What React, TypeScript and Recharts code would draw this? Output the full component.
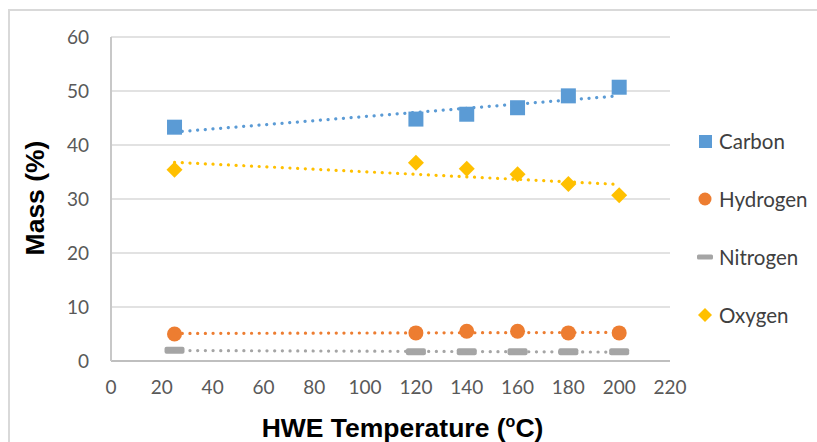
import React from 'react';
import { ComposedChart, Scatter, XAxis, YAxis, CartesianGrid, Legend } from 'recharts';

const temps = [25, 120, 140, 160, 180, 200];
const carbon = [43.3, 44.8, 45.7, 46.9, 49.1, 50.7];
const hydrogen = [5.0, 5.2, 5.5, 5.5, 5.2, 5.2];
const nitrogen = [2.0, 1.7, 1.7, 1.7, 1.7, 1.7];
const oxygen = [35.4, 36.7, 35.6, 34.6, 32.8, 30.7];

const trendX = [25, 200];
const carbonTrend = [42.4, 49.1];
const hydrogenTrend = [5.1, 5.3];
const nitrogenTrend = [1.95, 1.65];
const oxygenTrend = [36.8, 32.7];

const xTicks = [0, 20, 40, 60, 80, 100, 120, 140, 160, 180, 200, 220];
const yTicks = [0, 10, 20, 30, 40, 50, 60];

const seriesNames = ['Carbon', 'Hydrogen', 'Nitrogen', 'Oxygen'];
const colors = ['#5B9BD5', '#ED7D31', '#A5A5A5', '#FFC000'];

const toPts = (xs: number[], ys: number[]) => xs.map((x, i) => ({ x, y: ys[i] }));

const Square = (p: any) => <rect x={p.cx - 7.5} y={p.cy - 7.5} width={15} height={15} fill={colors[0]} />;
const Dot = (p: any) => <circle cx={p.cx} cy={p.cy} r={7.5} fill={colors[1]} />;
const Dash = (p: any) => <rect x={p.cx - 10} y={p.cy - 3.5} width={20} height={7} rx={2} fill={colors[2]} />;
const Diamond = (p: any) => (
  <path d={`M${p.cx},${p.cy - 8}L${p.cx + 8},${p.cy}L${p.cx},${p.cy + 8}L${p.cx - 8},${p.cy}Z`} fill={colors[3]} />
);
const NoShape = () => <g />;

const legendIcon = (i: number) => {
  if (i === 0) return <rect x={2} y={3} width={13} height={13} fill={colors[0]} />;
  if (i === 1) return <circle cx={8} cy={9} r={6.5} fill={colors[1]} />;
  if (i === 2) return <rect x={0} y={6.5} width={16} height={5} rx={1.5} fill={colors[2]} />;
  return <path d="M8,2L15,9L8,16L1,9Z" fill={colors[3]} />;
};

const LegendContent = () => (
  <div style={{ fontFamily: 'Lato, Calibri, sans-serif', fontSize: 20.5, color: '#404040' }}>
    {seriesNames.map((n, i) => (
      <div key={n} style={{ display: 'flex', alignItems: 'center', height: 58 }}>
        <svg width={18} height={18} style={{ marginRight: 4 }}>{legendIcon(i)}</svg>
        <span>{n}</span>
      </div>
    ))}
  </div>
);

const XTitle = (props: any) => {
  const vb = props.viewBox || { x: 111, width: 559 };
  const cx = vb.x + vb.width / 2 + 12;
  return (
    <text x={cx} y={437} textAnchor="middle" fontFamily="'Liberation Sans', Arial, sans-serif" fontWeight="bold" fontSize={26.5} fill="#000">
      <tspan>HWE Temperature (</tspan>
      <tspan fontSize={16} dy={-10}>o</tspan>
      <tspan dy={10}>C)</tspan>
    </text>
  );
};

const YTitle = () => (
  <text x={35} y={198} transform="rotate(-90, 35, 198)" textAnchor="middle" dominantBaseline="central"
    fontFamily="'Liberation Sans', Arial, sans-serif" fontWeight="bold" fontSize={26.5} fill="#000">
    Mass (%)
  </text>
);

const tickStyle = { fontFamily: 'Lato, Calibri, sans-serif', fontSize: 19, fill: '#595959' };

export default function App() {
  return (
    <div style={{ position: 'fixed', left: 0, top: 0, width: 817, height: 442, overflow: 'hidden', background: '#fff' }}>
      <div style={{ position: 'absolute', left: 8, top: 9, width: 900, height: 500, border: '2px solid #D9D9D9' }} />
      <div style={{ position: 'absolute', left: 0, top: 0 }}>
        <ComposedChart width={817} height={442} margin={{ top: 37, right: 23, bottom: 0, left: 0 }}>
          <CartesianGrid horizontal vertical={false} stroke="#D9D9D9" strokeWidth={1.5} />
          <XAxis type="number" dataKey="x" domain={[0, 220]} ticks={xTicks} height={81}
            axisLine={{ stroke: '#BFBFBF', strokeWidth: 2 }} tickLine={false} tickSize={0} tickMargin={20}
            tick={tickStyle} interval={0} label={<XTitle />} />
          <YAxis type="number" dataKey="y" domain={[0, 60]} ticks={yTicks} width={111}
            axisLine={{ stroke: '#C8C8C8', strokeWidth: 2 }} tickLine={false} tickSize={0} tickMargin={22}
            tick={tickStyle} interval={0} label={<YTitle />} />
          <Legend content={<LegendContent />} layout="vertical" align="right" verticalAlign="top"
            wrapperStyle={{ position: 'absolute', left: 697, top: 112, width: 124 }} />
          <Scatter name="Carbon" data={toPts(temps, carbon)} shape={Square} isAnimationActive={false} />
          <Scatter name="Hydrogen" data={toPts(temps, hydrogen)} shape={Dot} isAnimationActive={false} />
          <Scatter name="Nitrogen" data={toPts(temps, nitrogen)} shape={Dash} isAnimationActive={false} />
          <Scatter name="Oxygen" data={toPts(temps, oxygen)} shape={Diamond} isAnimationActive={false} />
          {[carbonTrend, hydrogenTrend, nitrogenTrend, oxygenTrend].map((t, i) => (
            <Scatter key={i} name={`trend${i}`} legendType="none" data={toPts(trendX, t)} shape={NoShape}
              line={{ stroke: colors[i], strokeWidth: 3.2, strokeDasharray: '0.1 7.6', strokeLinecap: 'round' }}
              isAnimationActive={false} />
          ))}
        </ComposedChart>
      </div>
    </div>
  );
}
